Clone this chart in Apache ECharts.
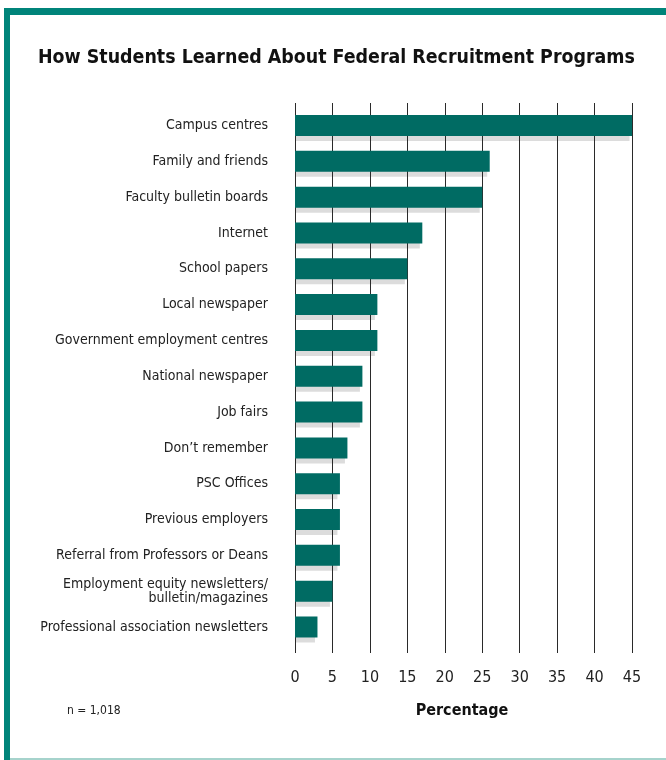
<!DOCTYPE html>
<html>
<head>
<meta charset="utf-8">
<script src="https://cdn.jsdelivr.net/npm/echarts@6/dist/echarts.min.js"></script>
<style>
  html, body { margin: 0; padding: 0; background: #fff; }
  #chart { width: 666px; height: 760px; }
</style>
</head>
<body>
<div id="chart"></div>
<script>
// Sources through which students heard about the programs (% of respondents)
const categories = [
  'Campus centres',
  'Family and friends',
  'Faculty bulletin boards',
  'Internet',
  'School papers',
  'Local newspaper',
  'Government employment centres',
  'National newspaper',
  'Job fairs',
  'Don\u2019t remember',
  'PSC Offices',
  'Previous employers',
  'Referral from Professors or Deans',
  'Employment equity newsletters/\nbulletin/magazines',
  'Professional association newsletters'
];
const percentages = [45, 26, 25, 17, 15, 11, 11, 9, 9, 7, 6, 6, 6, 5, 3];
const xTicks = { min: 0, max: 45, step: 5 };

const FONT = '"Liberation Sans Narrow", "DejaVu Sans Condensed", sans-serif';
const TEAL = '#006b63';
const FRAME = '#00847a';

const chart = echarts.init(document.getElementById('chart'), null, { renderer: 'canvas' });

const BAR_H = 21;

chart.setOption({
  animation: false,
  backgroundColor: '#ffffff',
  grid: [
    // bars
    { left: 295, right: 34, top: 107.6, height: 537.3, containLabel: false },
    // gridlines and percentage scale
    { left: 295, right: 34, top: 103, bottom: 107, containLabel: false }
  ],
  xAxis: [
    {
      gridIndex: 0, type: 'value', min: xTicks.min, max: xTicks.max, interval: xTicks.step,
      show: false
    },
    {
      gridIndex: 1, type: 'value', min: xTicks.min, max: xTicks.max, interval: xTicks.step,
      z: 2,
      axisLine: { show: false },
      axisTick: { show: false },
      splitLine: { show: true, lineStyle: { color: '#2a2a2a', width: 1 } },
      axisLabel: { margin: 17, fontFamily: FONT, fontSize: 16, color: '#222' }
    }
  ],
  yAxis: [
    {
      gridIndex: 0, type: 'category', data: categories, inverse: true,
      axisLine: { show: false },
      axisTick: { show: false },
      splitLine: { show: false },
      axisLabel: {
        margin: 27, fontFamily: FONT, fontSize: 14, color: '#222',
        lineHeight: 14, align: 'right'
      }
    },
    { gridIndex: 1, type: 'value', show: false, min: 0, max: 1 }
  ],
  series: [
    {
      // drop shadow under each bar
      type: 'custom',
      xAxisIndex: 0, yAxisIndex: 0,
      z: 1,
      silent: true,
      data: percentages.map((v, i) => [v, i]),
      encode: { x: 0, y: 1 },
      renderItem: function (params, api) {
        const start = api.coord([0, api.value(1)]);
        const end = api.coord([api.value(0), api.value(1)]);
        return {
          type: 'rect',
          shape: {
            x: start[0],
            y: start[1] - BAR_H / 2 + 5,
            width: Math.max(0, end[0] - start[0] - 2.5),
            height: BAR_H
          },
          style: { fill: '#dcdcdc' }
        };
      }
    },
    {
      type: 'bar',
      xAxisIndex: 0, yAxisIndex: 0,
      z: 3,
      data: percentages,
      barWidth: BAR_H,
      itemStyle: { color: TEAL }
    }
  ],
  graphic: [
    { type: 'rect', shape: { x: 4, y: 8, width: 662, height: 7 }, style: { fill: FRAME }, z: 10 },
    { type: 'rect', shape: { x: 4, y: 8, width: 6, height: 752 }, style: { fill: FRAME }, z: 10 },
    { type: 'rect', shape: { x: 10, y: 758, width: 656, height: 2 }, style: { fill: '#a6d3cc' }, z: 10 },
    {
      type: 'text', z: 10,
      style: {
        text: 'How Students Learned About Federal Recruitment Programs',
        x: 38, y: 58, textVerticalAlign: 'middle',
        font: 'bold 19.4px ' + FONT, fill: '#111'
      }
    },
    {
      type: 'text', z: 10,
      style: {
        text: 'Percentage', x: 462, y: 711, textAlign: 'center', textVerticalAlign: 'middle',
        font: 'bold 16px ' + FONT, fill: '#111'
      }
    },
    {
      type: 'text', z: 10,
      style: {
        text: 'n = 1,018', x: 67, y: 711, textVerticalAlign: 'middle',
        font: '12px ' + FONT, fill: '#222'
      }
    }
  ]
});
</script>
</body>
</html>
